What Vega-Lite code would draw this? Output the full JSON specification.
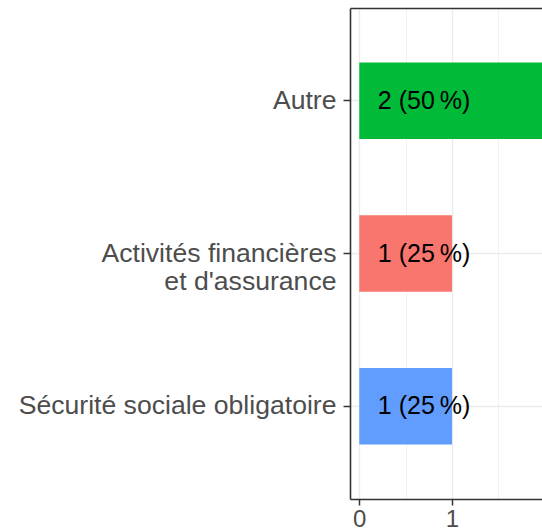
{
  "$schema": "https://vega.github.io/schema/vega-lite/v6.json",
  "autosize": {"type": "none"},
  "padding": {"left": 350, "top": 8, "right": 0, "bottom": 31},
  "width": 192,
  "height": 491,
  "background": "white",
  "config": {
    "view": {"stroke": null},
    "font": "Liberation Sans"
  },
  "data": {
    "values": [
      {"cat": "Autre", "n": 2, "label": "2 (50\u202f%)"},
      {"cat": "Activités financières\net d'assurance", "n": 1, "label": "1 (25\u202f%)"},
      {"cat": "Sécurité sociale obligatoire", "n": 1, "label": "1 (25\u202f%)"}
    ]
  },
  "layer": [
    {
      "mark": {"type": "bar", "clip": true},
      "encoding": {
        "y": {
          "field": "cat", "type": "nominal",
          "sort": ["Autre", "Activités financières\net d'assurance", "Sécurité sociale obligatoire"],
          "scale": {"paddingInner": 0.5, "paddingOuter": 0.357},
          "axis": {
            "title": null,
            "labelExpr": "split(datum.label, '\\n')",
            "labelFontSize": 26.6,
            "labelColor": "#4D4D4D",
            "labelLineHeight": 28,
            "labelPadding": 7,
            "labelLimit": 400,
            "tickSize": 7,
            "tickColor": "#333333",
            "tickWidth": 1.5,
            "domainColor": "#333333",
            "domainWidth": 1.6,
            "grid": true,
            "gridColor": "#EBEBEB",
            "gridWidth": 1.3,
            "bandPosition": 0.5
          }
        },
        "x": {
          "field": "n", "type": "quantitative",
          "scale": {"domain": [-0.1, 1.97], "nice": false, "zero": false},
          "axis": {
            "title": null,
            "values": [0, 1],
            "labelFontSize": 24,
            "labelColor": "#4D4D4D",
            "labelPadding": 2,
            "tickSize": 6,
            "tickColor": "#333333",
            "tickWidth": 1.5,
            "domainColor": "#333333",
            "domainWidth": 1.6,
            "grid": true,
            "gridColor": "#EBEBEB",
            "gridWidth": 1.3
          }
        },
        "x2": {"datum": 0},
        "color": {
          "field": "cat", "type": "nominal",
          "scale": {
            "domain": ["Activités financières\net d'assurance", "Autre", "Sécurité sociale obligatoire"],
            "range": ["#F8766D", "#00BA38", "#619CFF"]
          },
          "legend": null
        }
      }
    },
    {
      "mark": {"type": "text", "align": "left", "baseline": "middle", "fontSize": 25, "color": "black"},
      "encoding": {
        "y": {
          "field": "cat", "type": "nominal",
          "sort": ["Autre", "Activités financières\net d'assurance", "Sécurité sociale obligatoire"]
        },
        "x": {
          "datum": 0.2, "type": "quantitative",
          "axis": {
            "orient": "top",
            "title": null,
            "values": [0.5, 1.5],
            "labels": false,
            "ticks": false,
            "domain": true,
            "domainColor": "#333333",
            "domainWidth": 1.6,
            "grid": true,
            "gridColor": "#EEEEEE",
            "gridWidth": 0.8
          }
        },
        "text": {"field": "label"}
      }
    }
  ],
  "resolve": {"axis": {"x": "independent"}}
}
